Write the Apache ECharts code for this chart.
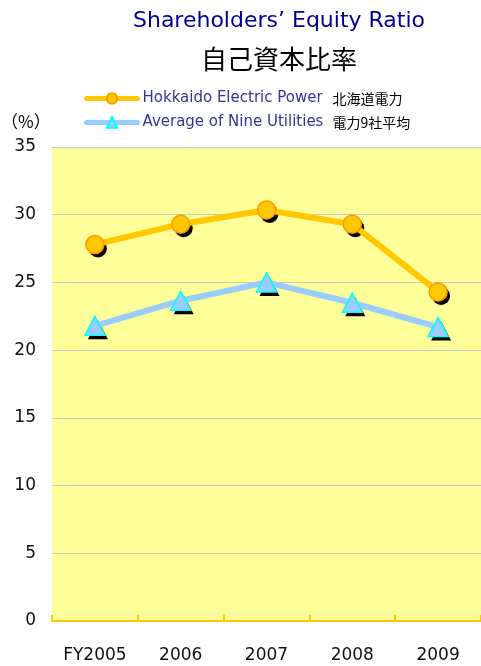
<!DOCTYPE html>
<html>
<head>
<meta charset="utf-8">
<script src="https://cdn.jsdelivr.net/npm/echarts@6/dist/echarts.min.js"></script>
<style>
  html, body { margin: 0; padding: 0; background: #fff; }
  #chart { width: 481px; height: 666px; }
</style>
</head>
<body>
<div id="chart"></div>
<script>
let years = ['FY2005', '2006', '2007', '2008', '2009'];
let seriesNames = ['Hokkaido Electric Power', 'Average of Nine Utilities'];
let seriesNamesJa = ['北海道電力', '電力9社平均'];
let hokkaido = [27.8, 29.3, 30.35, 29.3, 24.3];
let nineAvg = [21.8, 23.65, 25.0, 23.5, 21.7];
let yTicks = [0, 5, 10, 15, 20, 25, 30, 35];

let font = '"DejaVu Sans", "Noto Sans CJK JP", sans-serif';
let jaFont = '"Noto Sans CJK JP", sans-serif';

// black drop shadow drawn as a separate offset marker behind the line
function shadowSeries(data, symbol, size) {
    return {
        type: 'line',
        data: data,
        symbol: symbol,
        symbolSize: size,
        symbolOffset: [3, 4],
        showSymbol: true,
        silent: true,
        lineStyle: {opacity: 0},
        itemStyle: {color: '#000', borderWidth: 0},
        z: 1
    };
}

let chartDom = document.getElementById('chart');
let myChart = echarts.init(chartDom);
let option = {
    backgroundColor: '#fff',
    animation: false,
    title: [
        {
            text: 'Shareholders\u2019 Equity Ratio',
            left: 274,
            textAlign: 'center',
            top: 5,
            textStyle: {color: '#000099', fontSize: 22, fontWeight: 'normal', fontFamily: font}
        },
        {
            text: '自己資本比率',
            left: 274,
            textAlign: 'center',
            top: 41,
            textStyle: {color: '#000', fontSize: 26, fontWeight: 'normal', fontFamily: jaFont}
        },
        {
            text: '（%）',
            left: -4,
            top: 108,
            textStyle: {color: '#000', fontSize: 17, fontWeight: 'normal', fontFamily: jaFont}
        }
    ],
    legend: {
        orient: 'vertical',
        left: 79,
        top: 86,
        itemWidth: 51,
        itemHeight: 13,
        itemGap: 9,
        data: seriesNames.map(function (n) {
            return {name: n, lineStyle: {width: 5, cap: 'round'}};
        }),
        formatter: function (name) {
            let i = seriesNames.indexOf(name);
            return '{a|' + name + '}{b|' + seriesNamesJa[i] + '}';
        },
        textStyle: {
            rich: {
                a: {color: '#333399', fontSize: 15, fontFamily: font, width: 190},
                b: {color: '#000', fontSize: 14, fontFamily: jaFont}
            }
        }
    },
    grid: {
        left: 52,
        right: -4,
        top: 147,
        bottom: 45,
        show: true,
        backgroundColor: '#FFFF99',
        borderWidth: 0
    },
    xAxis: {
        type: 'category',
        data: years,
        boundaryGap: true,
        axisLine: {lineStyle: {color: '#FFC800', width: 2}},
        axisTick: {show: true, inside: true, length: 6, lineStyle: {color: '#FFC800', width: 2}},
        axisLabel: {color: '#111', fontSize: 17, fontFamily: font, margin: 26}
    },
    yAxis: {
        type: 'value',
        min: yTicks[0],
        max: yTicks[yTicks.length - 1],
        interval: 5,
        axisLine: {show: false},
        axisTick: {show: false},
        axisLabel: {color: '#111', fontSize: 17, fontFamily: font, margin: 16},
        splitLine: {lineStyle: {color: '#C8C8C8', width: 1}}
    },
    series: [
        shadowSeries(hokkaido, 'circle', 18),
        shadowSeries(nineAvg, 'triangle', [20, 19]),
        {
            name: seriesNames[0],
            type: 'line',
            data: hokkaido,
            symbol: 'circle',
            symbolSize: 18,
            lineStyle: {color: '#FFC800', width: 6},
            itemStyle: {
                color: '#FFC800',
                borderColor: '#FF9900',
                borderWidth: 1.5
            },
            z: 3
        },
        {
            name: seriesNames[1],
            type: 'line',
            data: nineAvg,
            symbol: 'triangle',
            symbolSize: [20, 19],
            lineStyle: {color: '#99CCFF', width: 6},
            itemStyle: {
                color: '#99CCFF',
                borderColor: '#00FFFF',
                borderWidth: 1.5
            },
            z: 2
        }
    ]
};
option && myChart.setOption(option);
</script>
</body>
</html>
